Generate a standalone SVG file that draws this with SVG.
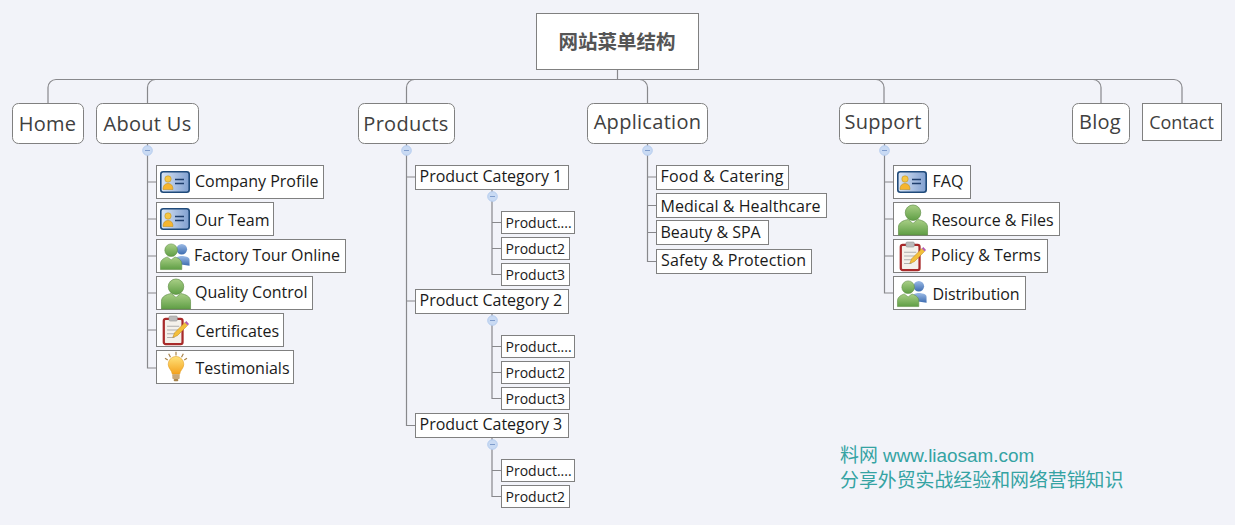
<svg xmlns="http://www.w3.org/2000/svg" width="1235" height="525" viewBox="0 0 1235 525">
<style>
text{font-family:"Open Sans","Noto Sans","Noto Sans CJK SC",sans-serif}
.b{fill:#fff;stroke:#808080;stroke-width:1}
.c{fill:none;stroke:#88888c;stroke-width:1.2}
.t1{font-size:20px;letter-spacing:.3px;fill:#404040}
.t2{font-size:16px;fill:#1a1a1a}
.t3{font-size:14px;fill:#1a1a1a}
.k{fill:#c9daf3;stroke:#b5cdf0}
.m{stroke:#7f9ccc;stroke-width:1}
.w{font-size:18.9px;fill:#35a3a3;font-family:"Liberation Sans","Noto Sans CJK SC",sans-serif}
</style>
<defs>
<linearGradient id="gb" x1="0" y1="0" x2="1" y2="0"><stop offset="0" stop-color="#dbe6f5"/><stop offset="1" stop-color="#7f9fd0"/></linearGradient>
<linearGradient id="gg" x1="0" y1="0" x2="0" y2="1"><stop offset="0" stop-color="#a9cf86"/><stop offset="1" stop-color="#5f9e45"/></linearGradient>
<linearGradient id="gl" x1="0" y1="0" x2="0" y2="1"><stop offset="0" stop-color="#9cbbe6"/><stop offset="1" stop-color="#3d6cb0"/></linearGradient>
<linearGradient id="gy" x1="0" y1="0" x2="0" y2="1"><stop offset="0" stop-color="#ffe27a"/><stop offset="1" stop-color="#f4a11c"/></linearGradient>
<symbol id="card" viewBox="0 0 30 22" overflow="visible">
<rect x="0.8" y="0.8" width="28.4" height="20.4" rx="2.5" fill="url(#gb)" stroke="#1f4a7a" stroke-width="1.6"/>
<circle cx="8" cy="8" r="3.2" fill="#f6c642" stroke="#b98a1a" stroke-width=".5"/>
<path d="M3 18.500c0-4 2-6 5-6s5 2 5 6z" fill="#f6b52e" stroke="#b98a1a" stroke-width=".5"/>
<path d="M15 8.500h9M15 12.500h9" stroke="#1f3f6d" stroke-width="1.600"/>
</symbol>
<symbol id="person" viewBox="0 0 32 32" overflow="visible">
<circle cx="16" cy="9" r="8" fill="url(#gg)" stroke="#5f8f45" stroke-width=".7"/>
<path d="M1 32v-8c0-5 5-7 10-8l5 4 5-4c5 1 10 3 10 8v8z" fill="url(#gg)" stroke="#5f8f45" stroke-width=".7"/>
</symbol>
<symbol id="people" viewBox="0 0 32 28" overflow="visible">
<circle cx="23" cy="7" r="5.500" fill="url(#gl)"/>
<path d="M17 22v-5c0-2 3-3 6-3s8 1 8 4v6z" fill="url(#gl)"/>
<circle cx="12" cy="8" r="6.500" fill="url(#gg)" stroke="#5f8f45" stroke-width=".6"/>
<path d="M1 28v-6c0-4 4-6 7-7l4 3 4-3c3 1 7 3 7 7v6z" fill="url(#gg)" stroke="#5f8f45" stroke-width=".6"/>
</symbol>
<symbol id="clip" viewBox="0 0 28 32" overflow="visible">
<rect x="1.500" y="4" width="20" height="27" rx="2" fill="#f4f1ea" stroke="#a82a2a" stroke-width="2.400"/>
<rect x="7" y="1" width="9" height="5.500" rx="1.500" fill="#bbb" stroke="#888" stroke-width=".5"/>
<path d="M5 12h13M5 16h13M5 20h9M5 24h8" stroke="#aaa" stroke-width="1"/>
<path d="M11 24l2-5L24 8l3 3L16 22z" fill="#f3bf3a" stroke="#b5801c" stroke-width=".5"/>
<path d="M24 8l1.500-1.500 3 3L27 11z" fill="#b05ab0"/>
</symbol>
<symbol id="bulb" viewBox="0 0 24 32" overflow="visible">
<path d="M12 0v4M4 2l2 4M20 2l-2 4M0 7l3 2M24 7l-3 2" stroke="#a8834a" stroke-width="1.300"/>
<path d="M12 5a8.500 8.500 0 0 0-8.500 8.500c0 4.500 4 6.500 4.500 11h8c.5-4.500 4.500-6.500 4.500-11A8.500 8.500 0 0 0 12 5z" fill="url(#gy)" stroke="#e09a1a" stroke-width=".6"/>
<rect x="8" y="24.500" width="8" height="5" rx="1" fill="#c9a878"/><rect x="9.500" y="29.500" width="5" height="2.500" rx="1" fill="#a8834a"/>
</symbol>
<g id="tog"><circle r="4.800" class="k"/><path d="M-2.500 0h5" class="m"/></g>
</defs>
<rect width="1235" height="525" fill="#f2f3f9"/>
<g id="connectors" class="c">
<path class="c" d="M617.500 69.500V79.500"/>
<path class="c" d="M48 103.500V87.500a8 8 0 0 1 8-8H1174a8 8 0 0 1 8 8V103.500"/>
<path class="c" d="M147.500 103.500V87.500a8 8 0 0 1 8-8M406.500 103.500V87.500a8 8 0 0 1 8-8M639.500 79.500a8 8 0 0 1 8 8V103.500M876 79.500a8 8 0 0 1 8 8V103.500M1093 79.500a8 8 0 0 1 8 8V103.500"/>
<path class="c" d="M147.500 143.500V368H156.500M147.500 182H156.500M147.500 219H156.500M147.500 256H156.500M147.500 293H156.500M147.500 330H156.500"/>
<path class="c" d="M406.500 143.500V425.500H415.500M406.500 177H415.500M406.500 301H415.500"/>
<path class="c" d="M492 189.500V274.500H501.500M492 222.500H501.500M492 248.500H501.500"/>
<path class="c" d="M492 313.500V398.500H501.500M492 346.500H501.500M492 372.500H501.500"/>
<path class="c" d="M492 437.500V496.500H501.500M492 470.500H501.500"/>
<path class="c" d="M647.500 143.500V261.500H656.500M647.500 177H656.500M647.500 205.500H656.500M647.500 232.500H656.500"/>
<path class="c" d="M884.500 143.500V293H893.500M884.500 182H893.500M884.500 219H893.500M884.500 256H893.500"/>
</g>
<g id="toggles">
<use href="#tog" x="147.500" y="150.500"/><use href="#tog" x="406.500" y="150.500"/><use href="#tog" x="492.500" y="196.500"/><use href="#tog" x="492.500" y="320.500"/><use href="#tog" x="492.500" y="444.500"/><use href="#tog" x="647.500" y="150.500"/><use href="#tog" x="884.500" y="150.500"/>
</g>
<g id="root"><rect class="b" x="536.500" y="13.500" width="162" height="56"/><text x="617" y="49" text-anchor="middle" font-size="19.500" font-weight="700" fill="#555" style="font-family:'Noto Sans CJK SC',sans-serif">网站菜单结构</text></g>
<g id="home"><rect class="b" x="12.500" y="103.500" width="71" height="40" rx="6"/><text class="t1" x="47.500" y="131" text-anchor="middle">Home</text></g>
<g id="about"><rect class="b" x="96.500" y="103.500" width="102" height="40" rx="6"/><text class="t1" x="147.500" y="131" text-anchor="middle">About Us</text></g>
<g id="products"><rect class="b" x="358.500" y="103.500" width="96" height="40" rx="6"/><text class="t1" x="406" y="131" text-anchor="middle">Products</text></g>
<g id="application"><rect class="b" x="587.500" y="103.500" width="120" height="40" rx="6"/><text class="t1" x="647.500" y="129" text-anchor="middle">Application</text></g>
<g id="support"><rect class="b" x="839.500" y="103.500" width="89" height="40" rx="6"/><text class="t1" x="883" y="129" text-anchor="middle">Support</text></g>
<g id="blog"><rect class="b" x="1072.500" y="103.500" width="57" height="40" rx="6"/><text class="t1" x="1100" y="129" text-anchor="middle">Blog</text></g>
<g id="contact"><rect class="b" x="1142.500" y="103.500" width="79" height="37"/><text x="1181.500" y="128.500" text-anchor="middle" font-size="18" fill="#404040">Contact</text></g>
<g id="a1"><rect class="b" x="156.500" y="165.500" width="167" height="33"/><use href="#card" x="160" y="171" width="30" height="22"/><text class="t2" x="195" y="187">Company Profile</text></g>
<g id="a2"><rect class="b" x="156.500" y="202.500" width="117" height="33"/><use href="#card" x="160" y="208" width="30" height="22"/><text class="t2" x="195" y="226">Our Team</text></g>
<g id="a3"><rect class="b" x="156.500" y="239.500" width="189" height="33"/><use href="#people" x="159.500" y="242" width="31" height="28"/><text class="t2" x="194" y="261" textLength="146">Factory Tour Online</text></g>
<g id="a4"><rect class="b" x="156.500" y="276.500" width="156" height="33"/><use href="#person" x="160.500" y="278" width="31" height="31"/><text class="t2" x="195" y="298">Quality Control</text></g>
<g id="a5"><rect class="b" x="156.500" y="313.500" width="127" height="33"/><use href="#clip" x="162" y="315" width="27" height="30"/><text class="t2" x="195.500" y="337">Certificates</text></g>
<g id="a6"><rect class="b" x="156.500" y="350.500" width="137" height="33"/><use href="#bulb" x="165" y="351" width="22" height="31"/><text class="t2" x="195.500" y="374">Testimonials</text></g>
<g id="c1"><rect class="b" x="415.500" y="165.500" width="153" height="24"/><text class="t2" x="419.500" y="182">Product Category 1</text></g>
<g id="c1a"><rect class="b" x="501.500" y="211.500" width="73" height="22"/><text class="t3" x="505.500" y="228">Product....</text></g>
<g id="c1b"><rect class="b" x="501.500" y="237.500" width="68" height="22"/><text class="t3" x="505.500" y="254">Product2</text></g>
<g id="c1c"><rect class="b" x="501.500" y="263.500" width="68" height="22"/><text class="t3" x="505.500" y="280">Product3</text></g>
<g id="c2"><rect class="b" x="415.500" y="289.500" width="153" height="24"/><text class="t2" x="419.500" y="306">Product Category 2</text></g>
<g id="c2a"><rect class="b" x="501.500" y="335.500" width="73" height="22"/><text class="t3" x="505.500" y="352">Product....</text></g>
<g id="c2b"><rect class="b" x="501.500" y="361.500" width="68" height="22"/><text class="t3" x="505.500" y="378">Product2</text></g>
<g id="c2c"><rect class="b" x="501.500" y="387.500" width="68" height="22"/><text class="t3" x="505.500" y="404">Product3</text></g>
<g id="c3"><rect class="b" x="415.500" y="413.500" width="153" height="24"/><text class="t2" x="419.500" y="430">Product Category 3</text></g>
<g id="c3a"><rect class="b" x="501.500" y="459.500" width="73" height="22"/><text class="t3" x="505.500" y="476">Product....</text></g>
<g id="c3b"><rect class="b" x="501.500" y="485.500" width="68" height="22"/><text class="t3" x="505.500" y="502">Product2</text></g>
<g id="p1"><rect class="b" x="656.500" y="165.500" width="132" height="24"/><text class="t2" x="660.500" y="182" textLength="123">Food &amp; Catering</text></g>
<g id="p2"><rect class="b" x="656.500" y="193.500" width="170" height="24"/><text class="t2" x="660.500" y="212" textLength="160">Medical &amp; Healthcare</text></g>
<g id="p3"><rect class="b" x="656.500" y="220.500" width="112" height="24"/><text class="t2" x="660.500" y="238">Beauty &amp; SPA</text></g>
<g id="p4"><rect class="b" x="656.500" y="249.500" width="155" height="24"/><text class="t2" x="661" y="266" textLength="145">Safety &amp; Protection</text></g>
<g id="s1"><rect class="b" x="893.500" y="165.500" width="77" height="33"/><use href="#card" x="897" y="171" width="30" height="22"/><text class="t2" x="932.500" y="187">FAQ</text></g>
<g id="s2"><rect class="b" x="893.500" y="202.500" width="166" height="33"/><use href="#person" x="897.500" y="204" width="31" height="31"/><text class="t2" x="931.500" y="226">Resource &amp; Files</text></g>
<g id="s3"><rect class="b" x="893.500" y="239.500" width="154" height="33"/><use href="#clip" x="899" y="241" width="27" height="30"/><text class="t2" x="931" y="261">Policy &amp; Terms</text></g>
<g id="s4"><rect class="b" x="893.500" y="276.500" width="132" height="33"/><use href="#people" x="896.500" y="279" width="31" height="28"/><text class="t2" x="932.500" y="300" textLength="87">Distribution</text></g>
<text class="w" x="840" y="462">料网 www.liaosam.com</text>
<text class="w" x="840" y="487">分享外贸实战经验和网络营销知识</text>
</svg>
